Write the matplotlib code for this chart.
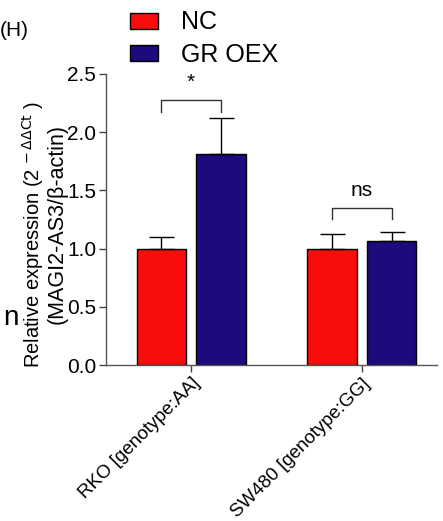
import matplotlib.pyplot as plt
import numpy as np
from matplotlib.patches import Patch

plt.rcParams['font.family'] = ['Liberation Sans', 'DejaVu Sans']

# data
groups = ['RKO [genotype:AA]', 'SW480 [genotype:GG]']
series = ['NC', 'GR OEX']
nc_vals = [1.00, 1.00]
nc_err = [0.10, 0.13]
oex_vals = [1.81, 1.07]
oex_err = [0.31, 0.07]
sig_labels = ['*', 'ns']
colors = ['#f80d0d', '#1c0b7c']

fig = plt.figure(figsize=(4.43, 5.21), dpi=100)
ax = fig.add_axes([0.239, 0.299, 0.747, 0.559])

x = np.arange(len(groups))
w = 0.29
off = 0.175
ekw = dict(capsize=9, elinewidth=1.0, capthick=1.0)
ax.bar(x - off, nc_vals, w, color=colors[0], edgecolor='black', linewidth=1.0,
       yerr=[np.zeros(2), nc_err], error_kw=ekw)
ax.bar(x + off, oex_vals, w, color=colors[1], edgecolor='black', linewidth=1.0,
       yerr=[np.zeros(2), oex_err], error_kw=ekw)

# significance brackets
bracket_y = [2.276, 1.353]
for i, (lab, by) in enumerate(zip(sig_labels, bracket_y)):
    ax.plot([i - off, i - off, i + off, i + off], [by - 0.1, by, by, by - 0.1],
            color='#333333', lw=1.0, clip_on=False)
    ax.text(i, by + 0.15, lab, ha='center', va='center', fontsize=15)

ax.set_xlim(-0.5, 1.44)
ax.set_ylim(0, 2.5)
ax.set_yticks([0, 0.5, 1.0, 1.5, 2.0, 2.5])
ax.set_yticklabels(['0.0', '0.5', '1.0', '1.5', '2.0', '2.5'], fontsize=15)
ax.set_xticks(x)
ax.set_xticklabels(groups, rotation=45, ha='right', rotation_mode='anchor', fontsize=13.5)
ax.tick_params(length=5, width=1, color='#444444', pad=2)
for s in ['top', 'right']:
    ax.spines[s].set_visible(False)
for s in ['left', 'bottom']:
    ax.spines[s].set_color('#555555')
    ax.spines[s].set_linewidth(1.0)

fig.text(0.075, 0.55, 'Relative expression (2$^{\\,-\\Delta\\Delta\\mathrm{Ct}}$ )',
         rotation=90, ha='center', va='center', fontsize=14.5)
fig.text(0.128, 0.57, '(MAGI2-AS3/β-actin)', rotation=90, ha='center', va='center',
         fontsize=15.5)
fig.text(0.0, 0.942, '(H)', ha='left', va='center', fontsize=15)
fig.text(0.008, 0.39, 'n', ha='left', va='center', fontsize=20)

handles = [Patch(facecolor=colors[0], edgecolor='black'),
           Patch(facecolor=colors[1], edgecolor='black')]
fig.legend(handles, series, loc='upper left', bbox_to_anchor=(130 / 443, 0.98),
           frameon=False, borderpad=0, borderaxespad=0, handlelength=1.1,
           handleheight=0.6, handletextpad=0.95, labelspacing=0.35,
           prop={'size': 18})

fig.savefig('out.png', dpi=100)
